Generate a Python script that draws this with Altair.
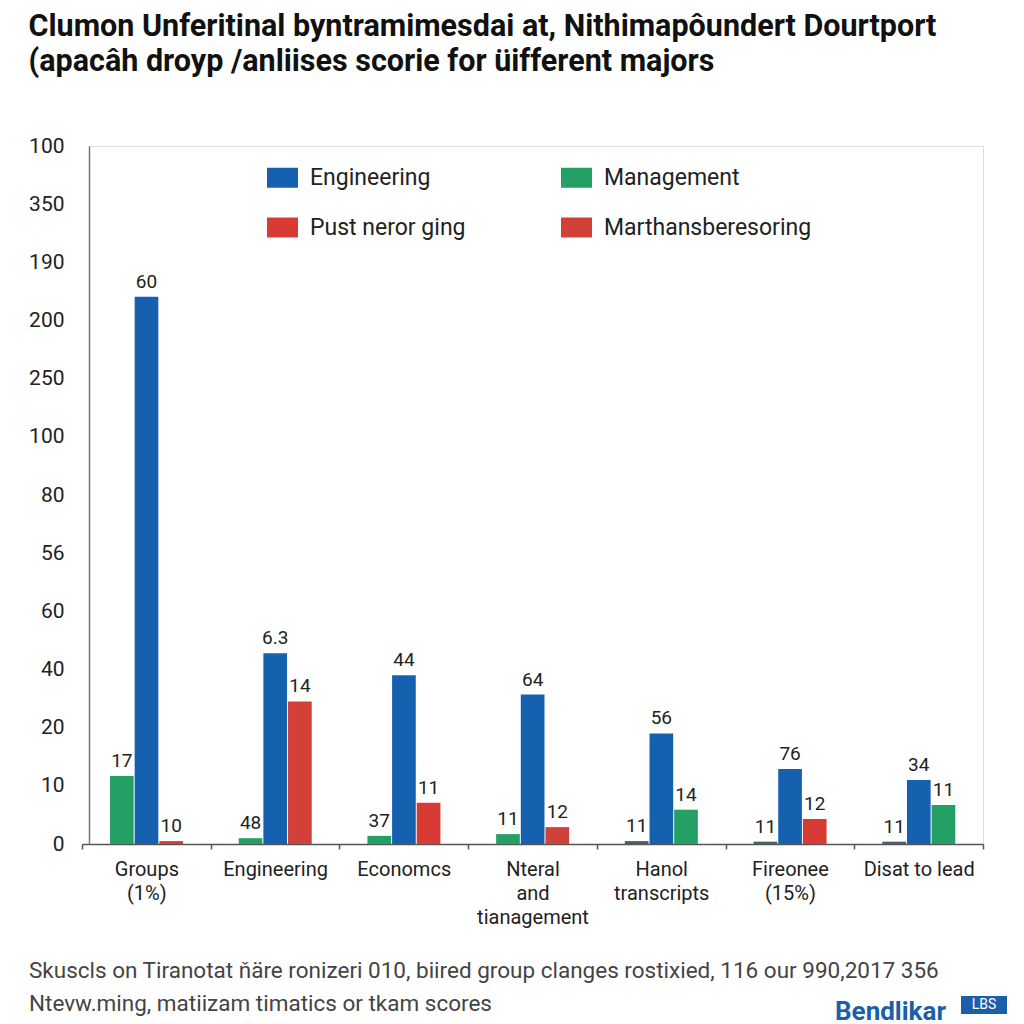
import altair as alt
import pandas as pd

# ---------------- data ----------------
groups = ["Groups\n(1%)", "Engineering", "Economcs", "Nteral\nand\ntianagement",
          "Hanol\ntranscripts", "Fireonee\n(15%)", "Disat to lead"]

slot0_series = ["Management", "Management", "Management", "Management", "Other", "Other", "Other"]
slot0_values = [1.17, 0.10, 0.14, 0.17, 0.05, 0.04, 0.04]
slot0_labels = ["17", "48", "37", "11", "11", "11", "11"]

slot1_series = ["Engineering"] * 7
slot1_values = [9.41, 3.28, 2.90, 2.57, 1.90, 1.29, 1.10]
slot1_labels = ["60", "6.3", "44", "64", "56", "76", "34"]

slot2_series = ["Pust neror ging", "Marthansberesoring", "Pust neror ging", "Marthansberesoring",
                "Management", "Pust neror ging", "Management"]
slot2_values = [0.05, 2.45, 0.71, 0.29, 0.59, 0.43, 0.67]
slot2_labels = ["10", "14", "11", "12", "14", "12", "11"]

y_tick_labels = ["0", "10", "20", "40", "60", "56", "80", "100", "250", "200", "190", "350", "100"]

legend_names = ["Engineering", "Management", "Pust neror ging", "Marthansberesoring"]
series_domain = legend_names + ["Other"]
series_colors = ["#1660b0", "#24a065", "#d83b33", "#d2403a", "#4d5c6c"]

title_lines = ["Clumon Unferitinal byntramimesdai at, Nithimapôundert Dourtport",
               "(apacâh droyp /anliises scorie for üifferent majors"]
footer_lines = ["Skuscls on Tiranotat ňäre ronizeri 010, biired group clanges rostixied, 116 our 990,2017 356",
                "Ntevw.ming, matiizam timatics or tkam scores"]
logo_text = "Bendlikar"
logo_badge = "LBS"

# ---------------- table ----------------
rows = []
for i, g in enumerate(groups):
    for slot, (ser, val, lab) in enumerate([
        (slot0_series, slot0_values, slot0_labels),
        (slot1_series, slot1_values, slot1_labels),
        (slot2_series, slot2_values, slot2_labels),
    ]):
        rows.append({"group": g, "slot": slot, "series": ser[i], "value": val[i], "label": lab[i]})
df = pd.DataFrame(rows)

FONT = "Roboto"
W, H = 894, 698

label_expr_y = "[" + ",".join("'%s'" % s for s in y_tick_labels) + "][datum.value]"

x_enc = alt.X("group:N", sort=groups, title=None,
              scale=alt.Scale(range=[-7, W], paddingInner=0, paddingOuter=0),
              axis=alt.Axis(labelExpr="split(datum.label, '\\n')", labelAngle=0,
                            labelFontSize=20, labelFont=FONT, labelColor="#222",
                            labelLineHeight=24, labelPadding=10, labelLimit=200,
                            tickBand="extent", tickSize=5, tickColor="#555", tickWidth=1.5,
                            domainColor="#555", domainWidth=1.5, grid=False))
xoff_enc = alt.XOffset("slot:O", scale=alt.Scale(range=[28, 101], paddingInner=0.04, paddingOuter=0))
y_enc = alt.Y("value:Q", title=None,
              scale=alt.Scale(domain=[0, 12], nice=False),
              axis=alt.Axis(values=list(range(13)), labelExpr=label_expr_y,
                            labelFontSize=21, labelFont=FONT, labelColor="#222",
                            labelPadding=25, ticks=False, grid=False,
                            domainColor="#777", domainWidth=1.5))

bars = alt.Chart(df).mark_bar().encode(
    x=x_enc, xOffset=xoff_enc, y=y_enc,
    color=alt.Color("series:N",
                    scale=alt.Scale(domain=series_domain, range=series_colors),
                    legend=alt.Legend(values=legend_names, title=None, orient="none",
                                      legendX=182, legendY=20, columns=2, direction="horizontal",
                                      symbolType="M-1.55,-1H1.55V1H-1.55Z", symbolSize=400,
                                      symbolStrokeWidth=0, symbolOpacity=1,
                                      labelFontSize=23, labelFont=FONT, labelColor="#222",
                                      labelOffset=16, columnPadding=95, rowPadding=26,
                                      padding=0, labelLimit=400)),
)

texts = alt.Chart(df).mark_text(baseline="bottom", dy=-5, fontSize=19, font=FONT, color="#222").encode(
    x=alt.X("group:N", sort=groups), xOffset=alt.XOffset("slot:O"), y="value:Q", text="label:N"
)

footer1 = alt.Chart(pd.DataFrame({"t": [footer_lines[0]]})).mark_text(
    align="left", baseline="middle", fontSize=22.5, font=FONT, color="#444").encode(
    x=alt.value(-60), y=alt.value(825), text="t:N")
footer2 = alt.Chart(pd.DataFrame({"t": [footer_lines[1]]})).mark_text(
    align="left", baseline="middle", fontSize=22.5, font=FONT, color="#444").encode(
    x=alt.value(-60), y=alt.value(858), text="t:N")

logo = alt.Chart(pd.DataFrame({"t": [logo_text]})).mark_text(
    align="left", baseline="middle", fontSize=26, fontWeight="bold",
    font=FONT, color="#1a5fa8").encode(x=alt.value(746), y=alt.value(866), text="t:N")

badge_df = pd.DataFrame({"t": [logo_badge]})
badge_box = alt.Chart(badge_df).mark_rect(color="#1a5fa8").encode(
    x=alt.value(872), x2=alt.value(918), y=alt.value(850), y2=alt.value(868))
badge_txt = alt.Chart(badge_df).mark_text(fontSize=14, font=FONT, color="white").encode(
    x=alt.value(895), y=alt.value(859), text="t:N")

chart = alt.layer(bars, texts, footer1, footer2, logo, badge_box, badge_txt).properties(
    width=W, height=H,
    padding={"left": 20, "top": 3, "right": 5, "bottom": 0},
    title=alt.TitleParams(text=title_lines, anchor="start", frame="bounds", fontSize=30.5,
                          font=FONT, fontWeight="bold", color="#111", lineHeight=35, offset=58),
).configure_view(stroke=None).configure(background="white")

chart.save("out.html", embed_options={"renderer": "svg", "actions": False})
